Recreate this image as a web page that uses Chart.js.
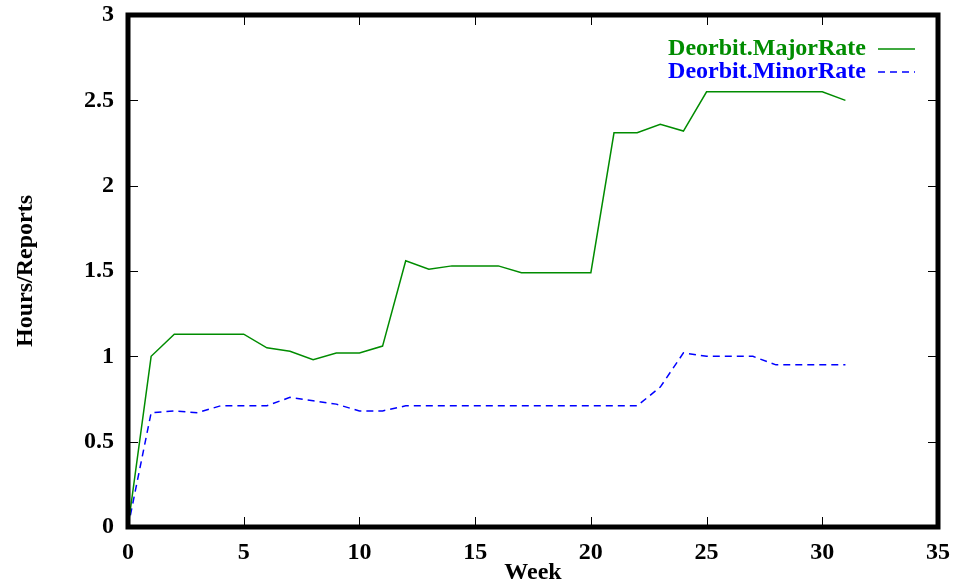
<!DOCTYPE html>
<html>
<head>
<meta charset="utf-8">
<script src="https://cdn.jsdelivr.net/npm/chart.js@4.4.1/dist/chart.umd.min.js"></script>
<style>
  html, body { margin: 0; padding: 0; background: #fff; }
  #chart { display: block; }
</style>
</head>
<body>
<canvas id="chart" width="953" height="585"></canvas>
<script>
// weeks and rates
const weeks = [0, 1, 2, 3, 4, 5, 6, 7, 8, 9, 10, 11, 12, 13, 14, 15, 16, 17, 18, 19, 20, 21, 22, 23, 24, 25, 26, 27, 28, 29, 30, 31];
const majorRate = [0, 1.0, 1.13, 1.13, 1.13, 1.13, 1.05, 1.03, 0.98, 1.02, 1.02, 1.06, 1.56, 1.51, 1.53, 1.53, 1.53, 1.49, 1.49, 1.49, 1.49, 2.31, 2.31, 2.36, 2.32, 2.55, 2.55, 2.55, 2.55, 2.55, 2.55, 2.5];
const minorRate = [0, 0.67, 0.68, 0.67, 0.71, 0.71, 0.71, 0.76, 0.74, 0.72, 0.68, 0.68, 0.71, 0.71, 0.71, 0.71, 0.71, 0.71, 0.71, 0.71, 0.71, 0.71, 0.71, 0.82, 1.02, 1.0, 1.0, 1.0, 0.95, 0.95, 0.95, 0.95];
const xTicks = [0, 5, 10, 15, 20, 25, 30, 35];
const yTicks = [0, 0.5, 1, 1.5, 2, 2.5, 3];

const font = { family: '"Liberation Serif", "DejaVu Serif", serif', weight: 'bold', size: 24 };
const green = '#008c00';
const blue = '#0000ff';

const toPoints = (ys) => weeks.map((w, i) => ({ x: w, y: ys[i] }));

// frame, inward ticks, legend in the top right corner
const framePlugin = {
    id: 'frame',
    afterDatasetsDraw(chart) {
        const { ctx, chartArea: a, scales } = chart;
        ctx.save();
        ctx.strokeStyle = '#000';
        ctx.lineWidth = 1;
        ctx.beginPath();
        xTicks.forEach(v => {
            const px = Math.round(scales.x.getPixelForValue(v)) + 0.5;
            ctx.moveTo(px, a.bottom); ctx.lineTo(px, a.bottom - 10);
            ctx.moveTo(px, a.top); ctx.lineTo(px, a.top + 10);
        });
        yTicks.forEach(v => {
            const py = Math.round(scales.y.getPixelForValue(v)) + 0.5;
            ctx.moveTo(a.left, py); ctx.lineTo(a.left + 10, py);
            ctx.moveTo(a.right, py); ctx.lineTo(a.right - 10, py);
        });
        ctx.stroke();

        ctx.lineWidth = 5;
        ctx.strokeRect(a.left, a.top, a.right - a.left, a.bottom - a.top);

        // legend
        ctx.font = 'bold 24px "Liberation Serif", "DejaVu Serif", serif';
        ctx.textAlign = 'right';
        ctx.textBaseline = 'middle';
        chart.data.datasets.forEach((ds, i) => {
            const y = 49 + i * 23;
            ctx.fillStyle = ds.borderColor;
            ctx.fillText(ds.label, 866, y);
            ctx.strokeStyle = ds.borderColor;
            ctx.lineWidth = 1.5;
            ctx.setLineDash(ds.borderDash || []);
            ctx.beginPath();
            ctx.moveTo(878, y); ctx.lineTo(915, y);
            ctx.stroke();
            ctx.setLineDash([]);
        });
        ctx.restore();
    }
};

new Chart(document.getElementById('chart'), {
    type: 'line',
    data: {
        datasets: [{
            label: 'Deorbit.MajorRate',
            data: toPoints(majorRate),
            borderColor: green,
            borderWidth: 1.5,
            pointRadius: 0,
            tension: 0,
            fill: false
        }, {
            label: 'Deorbit.MinorRate',
            data: toPoints(minorRate),
            borderColor: blue,
            borderWidth: 1.5,
            borderDash: [7, 5],
            pointRadius: 0,
            tension: 0,
            fill: false
        }]
    },
    options: {
        responsive: false,
        animation: false,
        layout: { padding: { top: 15, right: 15, left: 0, bottom: 0 } },
        plugins: {
            legend: { display: false },
            tooltip: { enabled: false }
        },
        scales: {
            x: {
                type: 'linear',
                min: 0,
                max: 35,
                grid: { display: false, drawTicks: false },
                border: { display: false },
                afterBuildTicks: (s) => { s.ticks = xTicks.map(v => ({ value: v })); },
                afterFit: (s) => { s.height = 58; s.paddingLeft = 0; s.paddingRight = 0; },
                ticks: { color: '#000', font: font, padding: 11, maxRotation: 0, callback: (v) => String(v) },
                title: { display: true, text: 'Week', color: '#000', font: { ...font, lineHeight: 1.0 }, padding: 0 }
            },
            y: {
                min: 0,
                max: 3,
                grid: { display: false, drawTicks: false },
                border: { display: false },
                afterBuildTicks: (s) => { s.ticks = yTicks.map(v => ({ value: v })); },
                afterFit: (s) => { s.width = 128; s.paddingTop = 0; s.paddingBottom = 0; },
                ticks: { color: '#000', font: font, padding: 14, callback: (v) => String(v) },
                title: { display: true, text: 'Hours/Reports', color: '#000', font: font, padding: { top: 11, bottom: 0 } }
            }
        }
    },
    plugins: [framePlugin]
});
</script>
</body>
</html>
